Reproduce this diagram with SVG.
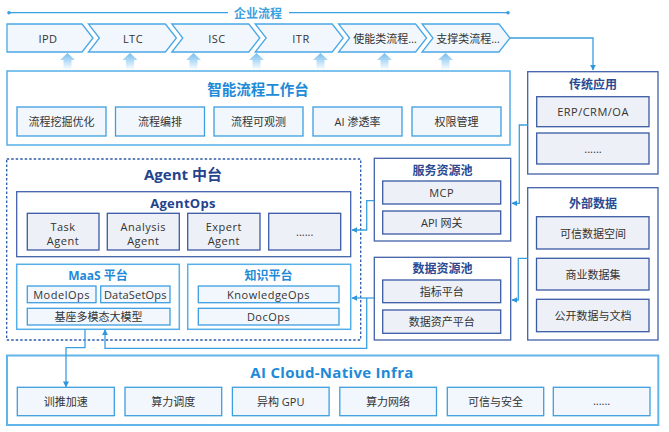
<svg xmlns="http://www.w3.org/2000/svg" width="669" height="432" viewBox="0 0 669 432">
<defs>
<linearGradient id="upg" x1="0" y1="0" x2="0" y2="1">
<stop offset="0" stop-color="#74bdee"/>
<stop offset="1" stop-color="#ffffff"/>
</linearGradient>
<marker id="ah" viewBox="0 0 10 10" refX="9" refY="5" markerWidth="6" markerHeight="6" markerUnits="userSpaceOnUse" orient="auto">
<path d="M0,0 L10,5 L0,10 z" fill="#2f95dc"/>
</marker>
<style>
text{font-family:"Open Sans","Noto Sans CJK SC",sans-serif;text-anchor:middle;dominant-baseline:central;}
.t{font-size:11px;fill:#333333;}
.la{letter-spacing:0.5px;}
.tl{font-size:12px;font-weight:bold;fill:#1e8ad8;}
.tn{font-size:12px;font-weight:bold;fill:#2a4a92;}
.chev{fill:#f1f7fd;stroke:#4aa8e6;stroke-width:1.3;}
.lbo{fill:#ffffff;stroke:#55afe8;stroke-width:1.5;}
.lbi{fill:#f1f7fd;stroke:#3d9ee0;stroke-width:1.3;}
.nvo{fill:#ffffff;stroke:#4262a8;stroke-width:1.3;}
.nvi{fill:#eef0f7;stroke:#3a5aa4;stroke-width:1.3;}
.con{fill:none;stroke:#3a9fe0;stroke-width:1.3;}
.up{fill:url(#upg);}
</style>
</defs>

<g id="enterprise-line">
<line x1="9" y1="12.7" x2="228" y2="12.7" stroke="#3a9fe0" stroke-width="1.3"/>
<line x1="289" y1="12.7" x2="508" y2="12.7" stroke="#3a9fe0" stroke-width="1.3"/>
<circle cx="9" cy="12.7" r="1.8" fill="#3a9fe0"/>
<circle cx="508" cy="12.7" r="1.8" fill="#3a9fe0"/>
<text x="258" y="13" style="font-size:12px;font-weight:bold;fill:#3a9fe0">企业流程</text>
</g>

<g id="process-IPD">
<polygon class="chev" points="7,24 82,24 93,38 82,52 7,52"/>
<text class="t la" x="48" y="38">IPD</text>
</g>
<g id="process-LTC">
<polygon class="chev" points="88.4,24 165.4,24 176.4,38 165.4,52 88.4,52 99.4,38"/>
<text class="t la" x="133" y="38">LTC</text>
</g>
<g id="process-ISC">
<polygon class="chev" points="171.8,24 248.8,24 259.8,38 248.8,52 171.8,52 182.8,38"/>
<text class="t la" x="217" y="38">ISC</text>
</g>
<g id="process-ITR">
<polygon class="chev" points="255.2,24 332.2,24 343.2,38 332.2,52 255.2,52 266.2,38"/>
<text class="t la" x="301" y="38">ITR</text>
</g>
<g id="process-enable">
<polygon class="chev" points="338.6,24 415.6,24 426.6,38 415.6,52 338.6,52 349.6,38"/>
<text class="t" x="385" y="38">使能类流程…</text>
</g>
<g id="process-support">
<polygon class="chev" points="422,24 499,24 510,38 499,52 422,52 433,38"/>
<text class="t" x="468" y="38">支撑类流程…</text>
</g>

<g id="up-arrows">
<path class="up" d="M60,60 L67.5,53 L75,60 L71.5,60 L71.5,70 L63.5,70 L63.5,60 z"/>
<path class="up" d="M122.5,60 L130,53 L137.5,60 L134,60 L134,70 L126,70 L126,60 z"/>
<path class="up" d="M186,60 L193.5,53 L201,60 L197.5,60 L197.5,70 L189.5,70 L189.5,60 z"/>
<path class="up" d="M249,60 L256.5,53 L264,60 L260.5,60 L260.5,70 L252.5,70 L252.5,60 z"/>
<path class="up" d="M313,60 L320.5,53 L328,60 L324.5,60 L324.5,70 L316.5,70 L316.5,60 z"/>
<path class="up" d="M377,60 L384.5,53 L392,60 L388.5,60 L388.5,70 L380.5,70 L380.5,60 z"/>
<path class="up" d="M438,60 L445.5,53 L453,60 L449.5,60 L449.5,70 L441.5,70 L441.5,60 z"/>
</g>

<g id="workbench">
<rect class="lbo" x="7" y="71" width="503" height="74"/>
<text x="258" y="89" style="font-size:14.5px;font-weight:bold;fill:#1e8ad8">智能流程工作台</text>
<rect class="lbi" x="17" y="107" width="89" height="29"/>
<text class="t" x="61.5" y="121.5">流程挖掘优化</text>
<rect class="lbi" x="115.5" y="107" width="89" height="29"/>
<text class="t" x="160" y="121.5">流程编排</text>
<rect class="lbi" x="214" y="107" width="89" height="29"/>
<text class="t" x="258.5" y="121.5">流程可观测</text>
<rect class="lbi" x="313" y="107" width="89" height="29"/>
<text class="t" x="357.5" y="121.5">AI 渗透率</text>
<rect class="lbi" x="412" y="107" width="89" height="29"/>
<text class="t" x="456.5" y="121.5">权限管理</text>
</g>

<g id="legacy-apps">
<rect class="nvo" x="527.7" y="71.7" width="130.3" height="102.3"/>
<text class="tn" x="593" y="84">传统应用</text>
<rect class="nvi" x="536.7" y="96.7" width="112.3" height="30"/>
<text class="t la" x="593" y="111.7">ERP/CRM/OA</text>
<rect class="nvi" x="536.7" y="133" width="112.3" height="31"/>
<text class="t" x="593" y="148">......</text>
</g>

<g id="external-data">
<rect class="nvo" x="527.7" y="187.7" width="130.3" height="152.3"/>
<text class="tn" x="593" y="203">外部数据</text>
<rect class="nvi" x="536.5" y="216.7" width="112.5" height="32.3"/>
<text class="t" x="593" y="233">可信数据空间</text>
<rect class="nvi" x="536.5" y="258.3" width="112.5" height="31.7"/>
<text class="t" x="593" y="274.2">商业数据集</text>
<rect class="nvi" x="536.5" y="299.3" width="112.5" height="32.4"/>
<text class="t" x="593" y="315.5">公开数据与文档</text>
</g>

<g id="service-pool">
<rect class="nvo" x="374.3" y="158.3" width="136.4" height="82.7"/>
<text class="tn" x="442.5" y="170">服务资源池</text>
<rect class="nvi" x="382.7" y="181" width="118" height="23"/>
<text class="t la" x="441.7" y="192.5">MCP</text>
<rect class="nvi" x="382.7" y="211" width="118" height="23"/>
<text class="t" x="441.7" y="222.5">API 网关</text>
</g>

<g id="data-pool">
<rect class="nvo" x="374.3" y="257.3" width="136.4" height="82.7"/>
<text class="tn" x="442.5" y="268.5">数据资源池</text>
<rect class="nvi" x="382.7" y="280" width="118" height="22.7"/>
<text class="t" x="441.7" y="291.3">指标平台</text>
<rect class="nvi" x="382.7" y="310" width="118" height="23.3"/>
<text class="t" x="441.7" y="321.7">数据资产平台</text>
</g>

<g id="agent-platform">
<rect x="6.7" y="159" width="354" height="181" fill="none" stroke="#2b5aa8" stroke-width="1.3" stroke-dasharray="2.5 2"/>
<text x="183" y="174" style="font-size:15px;font-weight:bold;fill:#24438c">Agent 中台</text>
</g>

<g id="agentops">
<rect class="nvo" x="16.7" y="191.7" width="334" height="65"/>
<text x="183" y="203.3" style="font-size:13px;font-weight:bold;fill:#24438c;letter-spacing:0.3px">AgentOps</text>
<rect class="nvi" x="27.3" y="213.3" width="71.7" height="36.7"/>
<text class="t la" x="63" y="226.5">Task</text>
<text class="t la" x="63" y="240">Agent</text>
<rect class="nvi" x="107.3" y="213.3" width="72" height="36.7"/>
<text class="t la" x="143.3" y="226.5">Analysis</text>
<text class="t la" x="143.3" y="240">Agent</text>
<rect class="nvi" x="187.7" y="213.3" width="72.3" height="36.7"/>
<text class="t la" x="223.8" y="226.5">Expert</text>
<text class="t la" x="223.8" y="240">Agent</text>
<rect class="nvi" x="268.7" y="213.3" width="72" height="36.7"/>
<text class="t" x="304.7" y="231">......</text>
</g>

<g id="maas">
<rect class="lbo" x="16.7" y="264.3" width="162.6" height="65"/>
<text class="tl" x="98" y="275.7">MaaS 平台</text>
<rect class="lbi" x="27.3" y="286" width="68.7" height="16.7"/>
<text class="t la" x="61.6" y="294.3">ModelOps</text>
<rect class="lbi" x="100.7" y="286" width="69.3" height="16.7"/>
<text class="t" x="135.3" y="294.3" style="letter-spacing:0.2px">DataSetOps</text>
<rect class="lbi" x="27.3" y="308.3" width="142.7" height="16.7"/>
<text class="t" x="98.6" y="316.7">基座多模态大模型</text>
</g>

<g id="knowledge">
<rect class="lbo" x="187.7" y="264.3" width="163" height="65"/>
<text class="tl" x="268.5" y="275.7">知识平台</text>
<rect class="lbi" x="198.3" y="286" width="140.7" height="16.7"/>
<text class="t la" x="268.6" y="294.3">KnowledgeOps</text>
<rect class="lbi" x="198.3" y="308.3" width="140.7" height="16.7"/>
<text class="t la" x="268.6" y="316.7">DocOps</text>
</g>

<g id="infra">
<rect x="7" y="355.5" width="651.3" height="69.5" fill="#ffffff" stroke="#62b5ea" stroke-width="2"/>
<text x="332" y="371.5" style="font-size:15px;font-weight:bold;fill:#1e8ad8;letter-spacing:0.3px">AI Cloud-Native Infra</text>
<rect class="lbi" x="17.3" y="387.3" width="97" height="28.4"/>
<text class="t" x="65.8" y="401.5">训推加速</text>
<rect class="lbi" x="125" y="387.3" width="96.7" height="28.4"/>
<text class="t" x="173.3" y="401.5">算力调度</text>
<rect class="lbi" x="232.4" y="387.3" width="96.7" height="28.4"/>
<text class="t" x="280.7" y="401.5">异构 GPU</text>
<rect class="lbi" x="339.8" y="387.3" width="96.7" height="28.4"/>
<text class="t" x="388.1" y="401.5">算力网络</text>
<rect class="lbi" x="447.3" y="387.3" width="96.4" height="28.4"/>
<text class="t" x="495.5" y="401.5">可信与安全</text>
<rect class="lbi" x="553.3" y="387.3" width="96.7" height="28.4"/>
<text class="t" x="601.6" y="400">......</text>
</g>

<g id="connectors">
<path class="con" d="M510,38 H593 V70" marker-end="url(#ah)"/>
<path class="con" d="M527.7,125 H519.3 V203.3 H512" marker-end="url(#ah)"/>
<path class="con" d="M527.7,258.3 H518.3 V300 H512" marker-end="url(#ah)"/>
<path class="con" d="M374.3,200.7 H366.7 V230 H352" marker-end="url(#ah)"/>
<path class="con" d="M374.3,298 H352" marker-end="url(#ah)"/>
<path class="con" d="M366.7,298 V348.3 H105 V329.8" marker-end="url(#ah)"/>
<path class="con" d="M85,329.3 V347.7 H66 V386.8" marker-end="url(#ah)"/>
</g>
</svg>
